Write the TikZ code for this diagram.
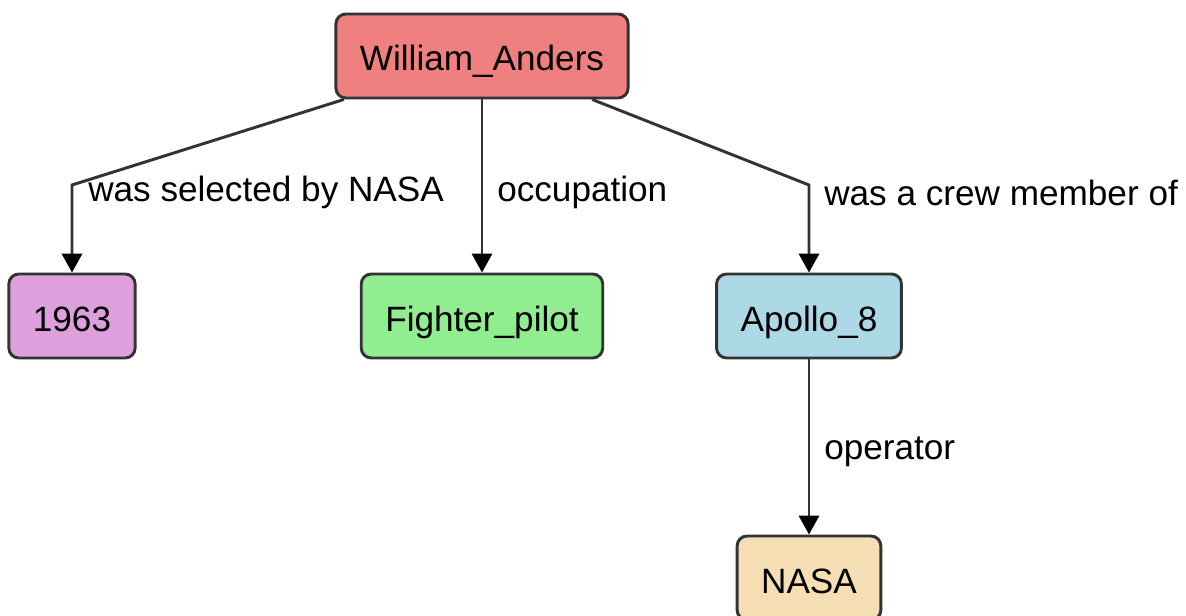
\documentclass[tikz,border=0pt]{standalone}
\usepackage{fontspec}
\setmainfont{Liberation Sans}
\usetikzlibrary{arrows.meta}
\definecolor{linegray}{HTML}{333333}
\definecolor{redfill}{HTML}{F08080}
\definecolor{plumfill}{HTML}{DDA0DD}
\definecolor{greenfill}{HTML}{90EE90}
\definecolor{bluefill}{HTML}{ADD8E6}
\definecolor{wheatfill}{HTML}{F5DEB3}
\tikzset{
	entity/.style={draw=linegray, line width=2.1pt, rounded corners=0.25cm, inner xsep=0.6cm, minimum height=2.1cm, text height=0.85cm, text depth=0.1cm, font=\fontsize{25}{30}\selectfont},
	rel/.style={draw=linegray, line width=2.1pt, -{Triangle[length=0.47cm, width=0.5cm, color=black]}},
	rellabel/.style={anchor=west, inner sep=0pt, font=\fontsize{25}{30}\selectfont}
}
\begin{document}
\begin{tikzpicture}[x=0.025cm, y=-0.025cm]
	\useasboundingbox (0,0) rectangle (1186,616);
	\node[entity, fill=redfill] (anders) at (482,56) {William\_Anders};
	\node[entity, fill=plumfill] (year) at (72,316) {1963};
	\node[entity, fill=greenfill] (pilot) at (482,316) {Fighter\_pilot};
	\node[entity, fill=bluefill] (apollo) at (809,316) {Apollo\_8};
	\node[entity, fill=wheatfill] (nasa) at (809,578) {NASA};
	\coordinate (bendl) at (72,185);
	\coordinate (bendr) at (809,185);
	\draw[rel] (anders) -- (bendl) -- (year);
	\draw[rel] (anders) -- (pilot);
	\draw[rel] (anders) -- (bendr) -- (apollo);
	\draw[rel] (apollo) -- (nasa);
	\node[rellabel] (lselected) at (88,192) {was selected by NASA};
	\node[rellabel] (loccupation) at (497,192) {occupation};
	\node[rellabel] (lcrew) at (824,193) {was a crew member of};
	\node[rellabel] (loperator) at (824,452) {operator};
\end{tikzpicture}
\end{document}
